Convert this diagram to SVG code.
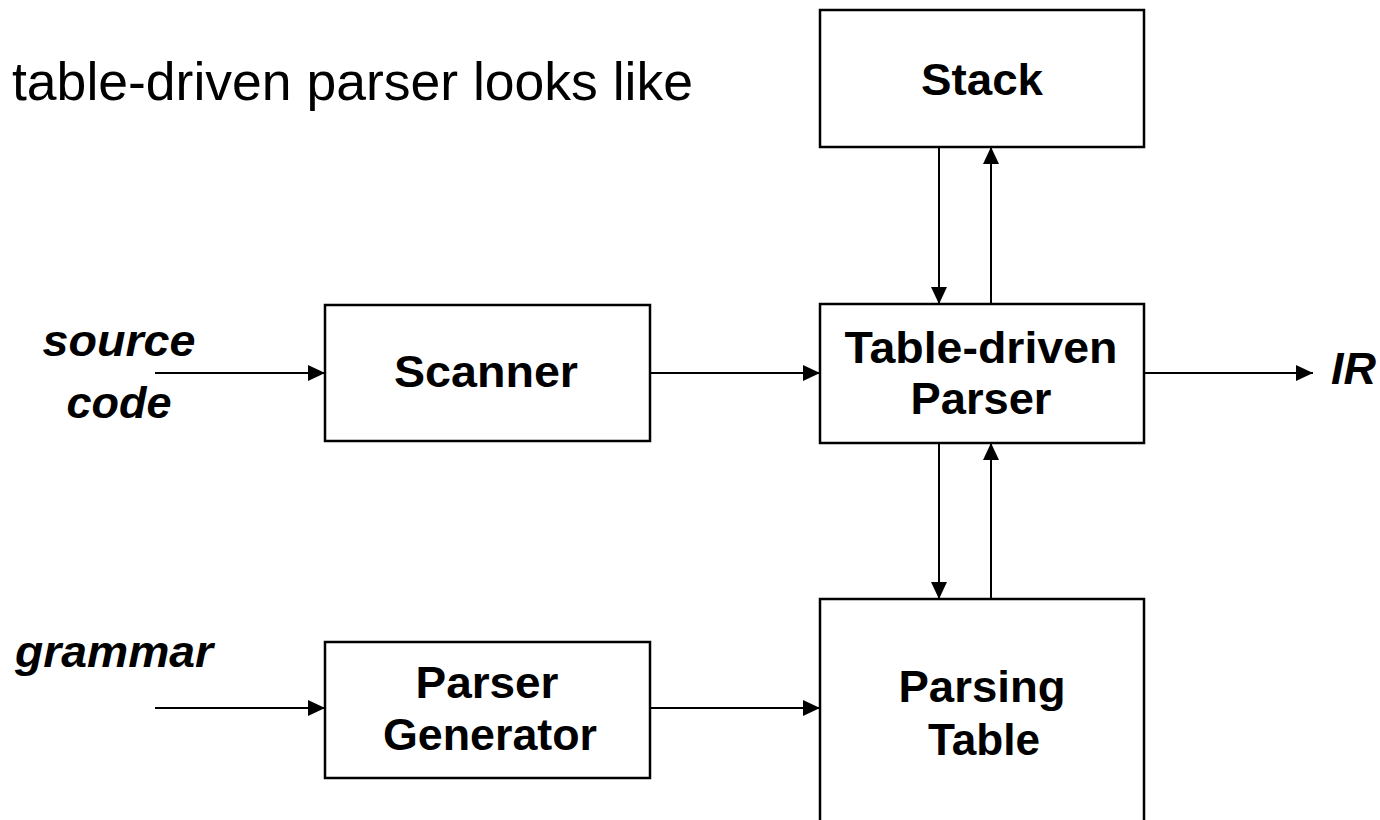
<svg xmlns="http://www.w3.org/2000/svg" width="1380" height="820" viewBox="0 0 1380 820">
<style>
.box{fill:#fff;stroke:#000;stroke-width:2.5}
.lbl{font-family:"Liberation Sans",Arial,sans-serif;font-weight:bold;font-size:44px;fill:#000;text-anchor:middle}
.it{font-family:"Liberation Sans",Arial,sans-serif;font-weight:bold;font-style:italic;font-size:45px;fill:#000}
.title{font-family:"Liberation Sans",Arial,sans-serif;font-size:53px;fill:#000}
.conn{stroke:#000;stroke-width:2;fill:none;marker-end:url(#ah)}
</style>
<defs>
<marker id="ah" markerUnits="userSpaceOnUse" markerWidth="17" markerHeight="16" refX="17" refY="8" orient="auto">
<path d="M0,0 L17,8 L0,16 z" fill="#000"/>
</marker>
</defs>
<rect width="1380" height="820" fill="#fff"/>
<text class="title" x="12" y="100" textLength="681" lengthAdjust="spacingAndGlyphs">table-driven parser looks like</text>
<g id="stack">
<rect class="box" x="820" y="10" width="324" height="137"/>
<text class="lbl" x="982" y="95" textLength="122" lengthAdjust="spacingAndGlyphs">Stack</text>
</g>
<g id="scanner">
<rect class="box" x="325" y="305" width="325" height="136"/>
<text class="lbl" x="486" y="387" textLength="184" lengthAdjust="spacingAndGlyphs">Scanner</text>
</g>
<g id="parser">
<rect class="box" x="820" y="304" width="324" height="139"/>
<text class="lbl" x="981" y="363" textLength="273" lengthAdjust="spacingAndGlyphs">Table-driven</text>
<text class="lbl" x="981" y="414" textLength="141" lengthAdjust="spacingAndGlyphs">Parser</text>
</g>
<g id="generator">
<rect class="box" x="325" y="642" width="325" height="136"/>
<text class="lbl" x="487" y="698" textLength="143" lengthAdjust="spacingAndGlyphs">Parser</text>
<text class="lbl" x="490" y="750" textLength="214" lengthAdjust="spacingAndGlyphs">Generator</text>
</g>
<g id="table">
<rect class="box" x="820" y="599" width="324" height="240"/>
<text class="lbl" x="982" y="702" textLength="167" lengthAdjust="spacingAndGlyphs">Parsing</text>
<text class="lbl" x="984" y="755" textLength="112" lengthAdjust="spacingAndGlyphs">Table</text>
</g>
<g id="labels">
<text class="it" x="119" y="356" text-anchor="middle" textLength="153" lengthAdjust="spacingAndGlyphs">source</text>
<text class="it" x="119" y="418" text-anchor="middle" textLength="105" lengthAdjust="spacingAndGlyphs">code</text>
<text class="it" x="15" y="667" textLength="198" lengthAdjust="spacingAndGlyphs">grammar</text>
<text class="it" x="1331" y="384">IR</text>
</g>
<g id="connectors">
<line class="conn" x1="155" y1="373" x2="325" y2="373"/>
<line class="conn" x1="650" y1="373" x2="820" y2="373"/>
<line class="conn" x1="1144" y1="373" x2="1313" y2="373"/>
<line class="conn" x1="939" y1="147" x2="939" y2="304"/>
<line class="conn" x1="991" y1="304" x2="991" y2="147"/>
<line class="conn" x1="939" y1="443" x2="939" y2="599"/>
<line class="conn" x1="991" y1="599" x2="991" y2="443"/>
<line class="conn" x1="155" y1="708" x2="325" y2="708"/>
<line class="conn" x1="650" y1="708" x2="820" y2="708"/>
</g>
</svg>
